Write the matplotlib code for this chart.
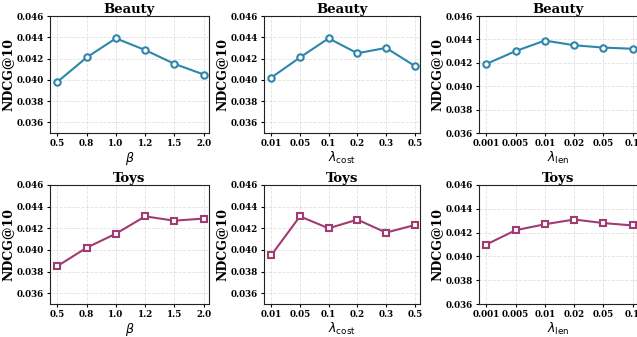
import matplotlib
matplotlib.use('Agg')
import matplotlib.pyplot as plt

# x tick labels for each hyper-parameter (plotted at even spacing)
beta_ticks = ['0.5', '0.8', '1.0', '1.2', '1.5', '2.0']
cost_ticks = ['0.01', '0.05', '0.1', '0.2', '0.3', '0.5']
len_ticks = ['0.001', '0.005', '0.01', '0.02', '0.05', '0.1']

# NDCG@10 values
beauty_beta = [0.0398, 0.0421, 0.0439, 0.0428, 0.0415, 0.0405]
beauty_cost = [0.0402, 0.0421, 0.0439, 0.0425, 0.0430, 0.0413]
beauty_len = [0.0419, 0.0430, 0.0439, 0.0435, 0.0433, 0.0432]
toys_beta = [0.0385, 0.0402, 0.0415, 0.0431, 0.0427, 0.0429]
toys_cost = [0.0395, 0.0431, 0.0420, 0.0428, 0.0416, 0.0423]
toys_len = [0.0410, 0.0422, 0.0427, 0.0431, 0.0428, 0.0426]

beauty_color = '#2E86AB'
toys_color = '#A23B72'

plt.rcParams['font.family'] = 'DejaVu Serif'

fig = plt.figure(figsize=(6.37, 3.37), dpi=100)

W, H = 637.0, 337.0
lefts = [50, 264, 479]
widths = [159, 156, 159]
rows = [(16, 133), (185, 304)]

panels = [
    [(beauty_beta, beta_ticks, r'$\beta$'),
     (beauty_cost, cost_ticks, r'$\lambda_{\mathrm{cost}}$'),
     (beauty_len, len_ticks, r'$\lambda_{\mathrm{len}}$')],
    [(toys_beta, beta_ticks, r'$\beta$'),
     (toys_cost, cost_ticks, r'$\lambda_{\mathrm{cost}}$'),
     (toys_len, len_ticks, r'$\lambda_{\mathrm{len}}$')],
]
titles = ['Beauty', 'Toys']
colors = [beauty_color, toys_color]
markers = ['o', 's']

for r in range(2):
    top, bottom = rows[r]
    for c in range(3):
        vals, ticks, xl = panels[r][c]
        ax = fig.add_axes([lefts[c] / W, 1 - bottom / H, widths[c] / W, (bottom - top) / H])
        xs = list(range(len(vals)))
        ax.plot(xs, vals, color=colors[r], marker=markers[r], markersize=4.6,
                markerfacecolor='white', markeredgewidth=1.5, linewidth=1.5)
        ax.set_xticks(xs)
        ax.set_xticklabels(ticks, fontweight='bold')
        ax.set_xlim(-0.25, 5.18)
        if c == 2:
            ax.set_ylim(0.036, 0.046)
        else:
            ax.set_ylim(0.035, 0.046)
        yt = [0.036, 0.038, 0.040, 0.042, 0.044, 0.046]
        ax.set_yticks(yt)
        ax.set_yticklabels(['%.3f' % v for v in yt], fontweight='bold')
        ax.tick_params(labelsize=6.3, length=2.5, pad=2, colors='black')
        ax.grid(True, linestyle='--', color='#cccccc', alpha=0.6, linewidth=0.6)
        ax.set_title(titles[r], fontsize=9.5, fontweight='bold', pad=2)
        ax.set_ylabel('NDCG@10', fontsize=9, fontweight='bold', labelpad=1)
        ax.set_xlabel(xl, fontsize=9, labelpad=1)
        for sp in ax.spines.values():
            sp.set_color('#222222')

fig.savefig('out.png', dpi=100)
